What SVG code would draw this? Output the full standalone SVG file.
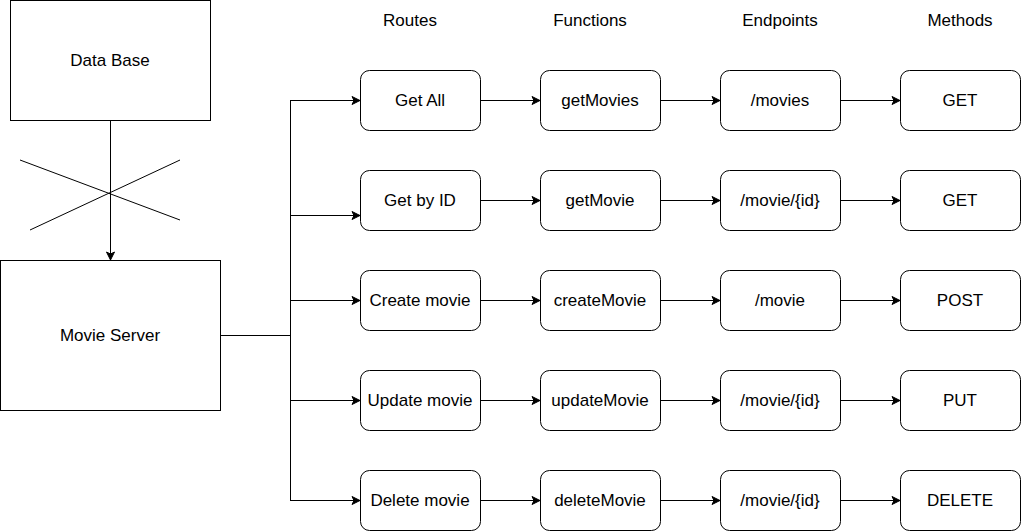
<svg xmlns="http://www.w3.org/2000/svg" width="1021" height="531" viewBox="0 0 1021 531">
<style>
.box{fill:#fff;stroke:#000;stroke-width:1}
.t{font-family:"Liberation Sans",Arial,sans-serif;font-size:17px;fill:#000;text-anchor:middle;dominant-baseline:central}
.c{fill:none;stroke:#000;stroke-width:1}
.a{fill:none;stroke:#000;stroke-width:1;marker-end:url(#arr)}
</style>
<defs>
<marker id="arr" markerUnits="userSpaceOnUse" markerWidth="10" markerHeight="10" refX="8" refY="4" orient="auto" overflow="visible">
<path d="M0,0 L8,4 L0,8 L2,4 Z" fill="#000" stroke="#000" stroke-width="1"/>
</marker>
</defs>
<rect width="1021" height="531" fill="#fff"/>
<g id="headers">
<text class="t" x="410" y="20">Routes</text>
<text class="t" x="590" y="20">Functions</text>
<text class="t" x="780" y="20">Endpoints</text>
<text class="t" x="960" y="20">Methods</text>
</g>
<g id="connectors">
<line class="a" x1="110.5" y1="120" x2="110.5" y2="260"/>
<line class="c" x1="20" y1="160" x2="180" y2="220"/>
<line class="c" x1="30" y1="230" x2="180" y2="160"/>
<polyline class="c" points="220,335.5 290.5,335.5"/>
<line class="c" x1="290.5" y1="100" x2="290.5" y2="500"/>
<line class="a" x1="290" y1="100.5" x2="360" y2="100.5"/>
<line class="a" x1="290" y1="215.5" x2="360" y2="215.5"/>
<line class="a" x1="290" y1="300.5" x2="360" y2="300.5"/>
<line class="a" x1="290" y1="400.5" x2="360" y2="400.5"/>
<line class="a" x1="290" y1="500.5" x2="360" y2="500.5"/>
<line class="a" x1="480" y1="100.5" x2="540" y2="100.5"/>
<line class="a" x1="660" y1="100.5" x2="720" y2="100.5"/>
<line class="a" x1="840" y1="100.5" x2="900" y2="100.5"/>
<line class="a" x1="480" y1="200.5" x2="540" y2="200.5"/>
<line class="a" x1="660" y1="200.5" x2="720" y2="200.5"/>
<line class="a" x1="840" y1="200.5" x2="900" y2="200.5"/>
<line class="a" x1="480" y1="300.5" x2="540" y2="300.5"/>
<line class="a" x1="660" y1="300.5" x2="720" y2="300.5"/>
<line class="a" x1="840" y1="300.5" x2="900" y2="300.5"/>
<line class="a" x1="480" y1="400.5" x2="540" y2="400.5"/>
<line class="a" x1="660" y1="400.5" x2="720" y2="400.5"/>
<line class="a" x1="840" y1="400.5" x2="900" y2="400.5"/>
<line class="a" x1="480" y1="500.5" x2="540" y2="500.5"/>
<line class="a" x1="660" y1="500.5" x2="720" y2="500.5"/>
<line class="a" x1="840" y1="500.5" x2="900" y2="500.5"/>
</g>
<g id="database"><rect class="box" x="10.5" y="0.5" width="200" height="120"/><text class="t" x="110" y="60">Data Base</text></g>
<g id="movieserver"><rect class="box" x="0.5" y="260.5" width="220" height="150"/><text class="t" x="110" y="335">Movie Server</text></g>
<g id="r1"><rect class="box" x="360.5" y="70.5" width="120" height="60" rx="9"/><text class="t" x="420" y="100">Get All</text></g>
<g id="r2"><rect class="box" x="360.5" y="170.5" width="120" height="60" rx="9"/><text class="t" x="420" y="200">Get by ID</text></g>
<g id="r3"><rect class="box" x="360.5" y="270.5" width="120" height="60" rx="9"/><text class="t" x="420" y="300">Create movie</text></g>
<g id="r4"><rect class="box" x="360.5" y="370.5" width="120" height="60" rx="9"/><text class="t" x="420" y="400">Update movie</text></g>
<g id="r5"><rect class="box" x="360.5" y="470.5" width="120" height="60" rx="9"/><text class="t" x="420" y="500">Delete movie</text></g>
<g id="f1"><rect class="box" x="540.5" y="70.5" width="120" height="60" rx="9"/><text class="t" x="600" y="100">getMovies</text></g>
<g id="f2"><rect class="box" x="540.5" y="170.5" width="120" height="60" rx="9"/><text class="t" x="600" y="200">getMovie</text></g>
<g id="f3"><rect class="box" x="540.5" y="270.5" width="120" height="60" rx="9"/><text class="t" x="600" y="300">createMovie</text></g>
<g id="f4"><rect class="box" x="540.5" y="370.5" width="120" height="60" rx="9"/><text class="t" x="600" y="400">updateMovie</text></g>
<g id="f5"><rect class="box" x="540.5" y="470.5" width="120" height="60" rx="9"/><text class="t" x="600" y="500">deleteMovie</text></g>
<g id="e1"><rect class="box" x="720.5" y="70.5" width="120" height="60" rx="9"/><text class="t" x="780" y="100">/movies</text></g>
<g id="e2"><rect class="box" x="720.5" y="170.5" width="120" height="60" rx="9"/><text class="t" x="780" y="200">/movie/{id}</text></g>
<g id="e3"><rect class="box" x="720.5" y="270.5" width="120" height="60" rx="9"/><text class="t" x="780" y="300">/movie</text></g>
<g id="e4"><rect class="box" x="720.5" y="370.5" width="120" height="60" rx="9"/><text class="t" x="780" y="400">/movie/{id}</text></g>
<g id="e5"><rect class="box" x="720.5" y="470.5" width="120" height="60" rx="9"/><text class="t" x="780" y="500">/movie/{id}</text></g>
<g id="m1"><rect class="box" x="900.5" y="70.5" width="120" height="60" rx="9"/><text class="t" x="960" y="100">GET</text></g>
<g id="m2"><rect class="box" x="900.5" y="170.5" width="120" height="60" rx="9"/><text class="t" x="960" y="200">GET</text></g>
<g id="m3"><rect class="box" x="900.5" y="270.5" width="120" height="60" rx="9"/><text class="t" x="960" y="300">POST</text></g>
<g id="m4"><rect class="box" x="900.5" y="370.5" width="120" height="60" rx="9"/><text class="t" x="960" y="400">PUT</text></g>
<g id="m5"><rect class="box" x="900.5" y="470.5" width="120" height="60" rx="9"/><text class="t" x="960" y="500">DELETE</text></g>
</svg>
